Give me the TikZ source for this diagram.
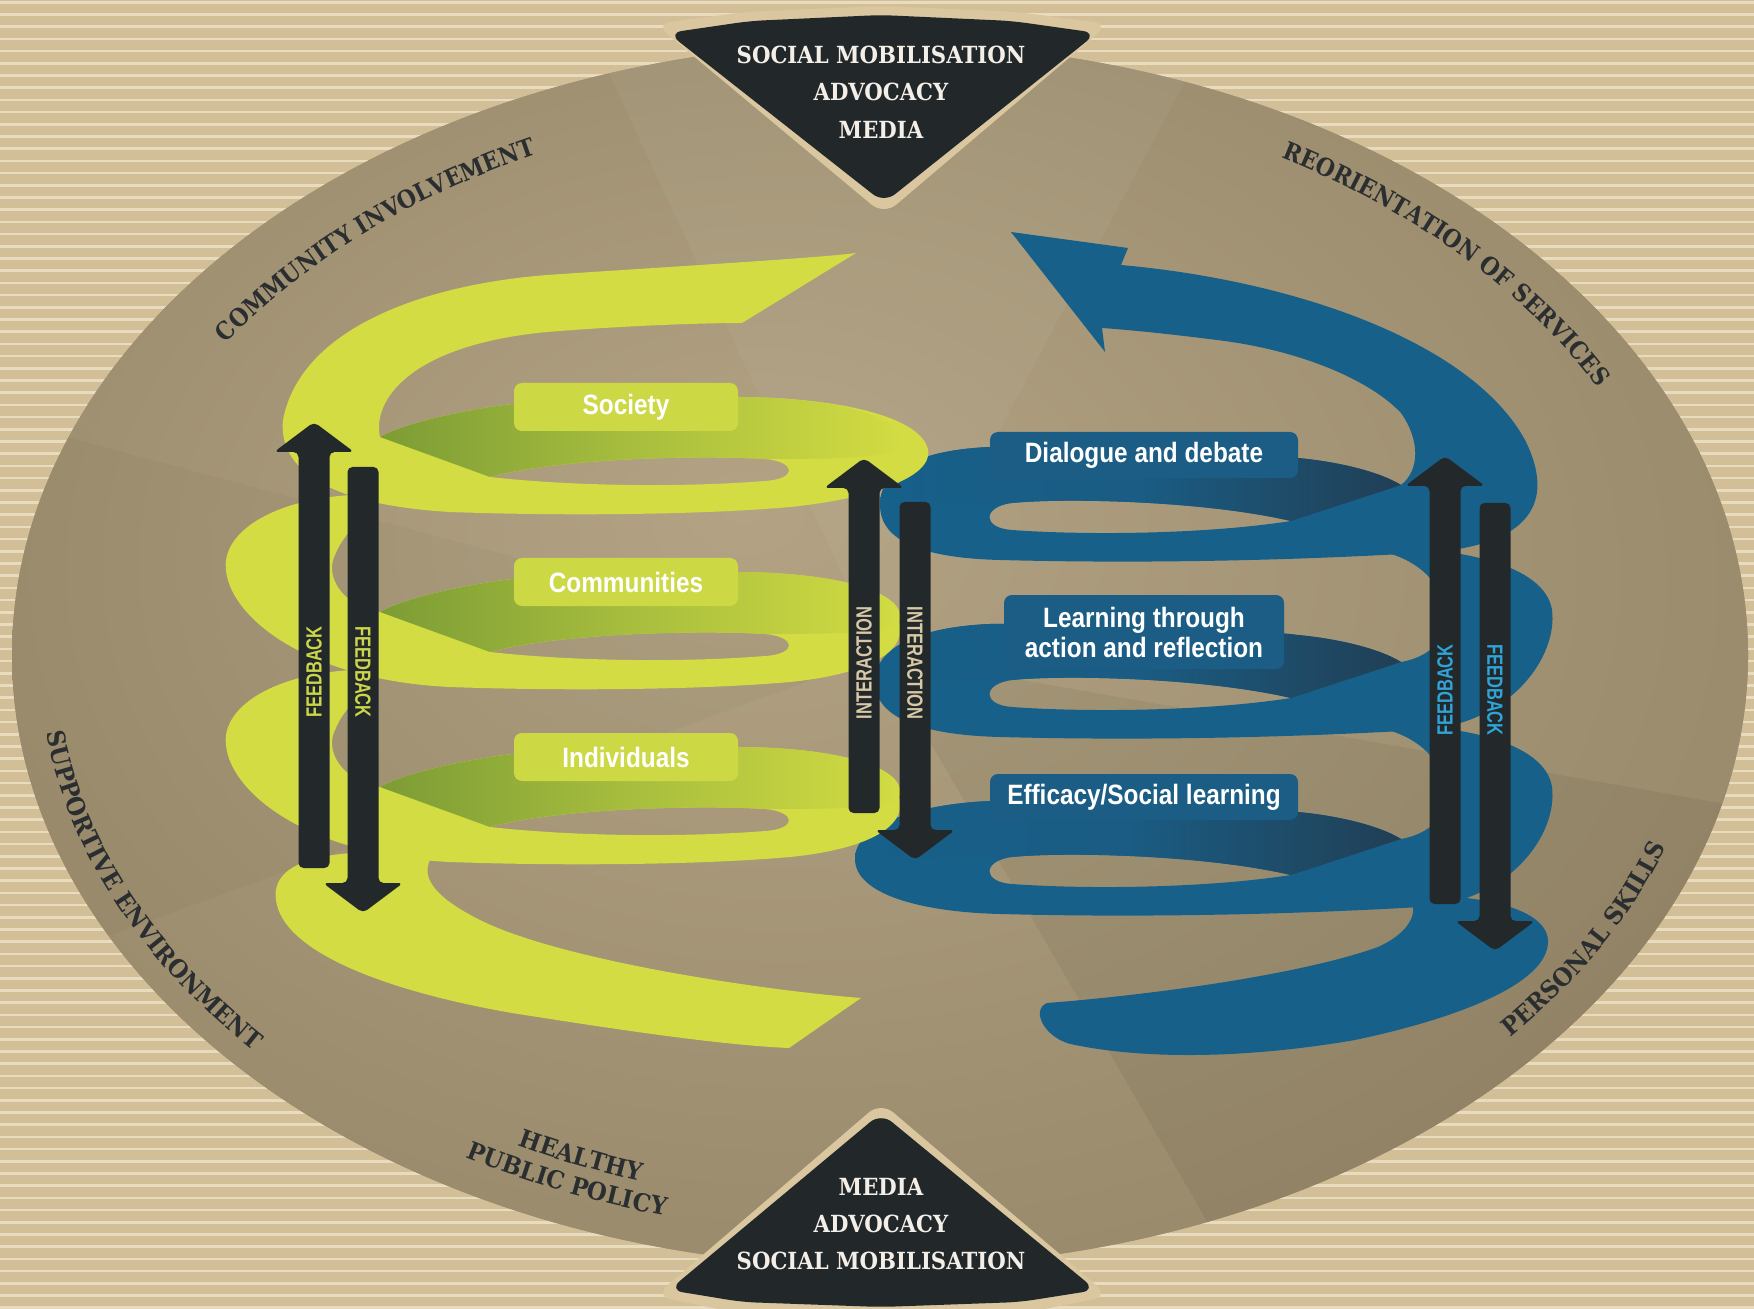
\documentclass[tikz,border=0pt]{standalone}
\usepackage{fontspec}
\usepackage{tikz}
\usetikzlibrary{decorations.text}
\newfontfamily\RimFont[FakeStretch=0.93]{DejaVu Serif}
\newfontfamily\RimFontTop[FakeStretch=0.89]{DejaVu Serif}
\newfontfamily\TriFont[FakeStretch=0.9]{DejaVu Serif}
\newfontfamily\TagFont[FakeStretch=0.87]{Liberation Sans}
\newfontfamily\ShaftFont[FakeStretch=0.75]{Liberation Sans}
\definecolor{BgTan}{HTML}{D2BE97}
\definecolor{BgLine}{HTML}{E9DBBD}
\definecolor{RimLight}{HTML}{B3A384}
\definecolor{RimMid}{HTML}{9D8E6F}
\definecolor{RimDark}{HTML}{897B5E}
\definecolor{TriInk}{HTML}{F3EFE8}
\definecolor{TriDark}{HTML}{22272A}
\definecolor{TriEdge}{HTML}{DAC7A0}
\definecolor{RimInk}{HTML}{2A2E30}
\definecolor{LimeBright}{HTML}{D3DC42}
\definecolor{LimeOlive}{HTML}{7C9C35}
\definecolor{LimeMid}{HTML}{A9BF3E}
\definecolor{LimeTag}{HTML}{CDD845}
\definecolor{SeaBlue}{HTML}{17608A}
\definecolor{SeaMid}{HTML}{1A5C83}
\definecolor{SeaDeep}{HTML}{213F55}
\definecolor{SeaTag}{HTML}{1B5D85}
\definecolor{ArrowInk}{HTML}{23282B}
\definecolor{LimeText}{HTML}{CBD64A}
\definecolor{SandText}{HTML}{D7C8A6}
\definecolor{SkyText}{HTML}{2FA4D8}
\newcommand\RimStyle{\RimFont\bfseries\fontsize{12.3}{14}\selectfont\color{RimInk}}
\newcommand\RimStyleTop{\RimFontTop\bfseries\fontsize{12.3}{14}\selectfont\color{RimInk}}
\pgfdeclareradialshading{RimGlow}{\pgfpoint{-4bp}{6bp}}{color(0bp)=(RimLight); color(24bp)=(RimMid); color(50bp)=(RimDark)}
\tikzset{%
  StripeLine/.style={fill=BgLine},
  GreenBand/.style={fill=LimeBright},
  BlueBand/.style={fill=SeaBlue},
  GreenTag/.style={fill=LimeTag,rounded corners=4pt,minimum width=112pt,minimum height=24pt,inner sep=0pt,text=white,font=\TagFont\bfseries\fontsize{14}{15}\selectfont},
  BlueTag/.style={fill=SeaTag,rounded corners=4pt,inner sep=0pt,align=center,text=white,font=\TagFont\bfseries\fontsize{14}{15}\selectfont},
  ShaftArrow/.style={fill=ArrowInk,rounded corners=2.5pt},
  ShaftTag/.style={inner sep=0pt,font=\ShaftFont\bfseries\fontsize{11}{12}\selectfont},
  TriText/.style={align=center,text=TriInk,font=\TriFont\bfseries\fontsize{11.8}{18.7}\selectfont},
  RimLabel/.style={decorate,decoration={text along path,text align=center,text={|\RimStyle|#1}}},
  RimLabelTop/.style={decorate,decoration={text along path,text align=center,text={|\RimStyleTop|#1}}}
}

\begin{document}
\begin{tikzpicture}[x=0.5pt,y=-0.5pt]
  \useasboundingbox (0,0) rectangle (1754,1309);
  \fill[BgTan] (0,0) rectangle (1754,1309);
  \foreach \i in {0,...,107}
    \fill[StripeLine] (0,{1+12.2*\i}) rectangle (1754,{3.6+12.2*\i});
  \fill[RimMid] (880,655) ellipse [x radius=868, y radius=612];
  \shade[shading=RimGlow] (880,655) ellipse [x radius=868, y radius=612];
  \begin{scope}
    \clip (880,655) ellipse [x radius=868, y radius=612];
    \foreach \ta/\tb/\tone/\op in {-115/-62/white/0.04,10/60/black/0.05,-200/-165/black/0.025}
      \fill[\tone, opacity=\op] (880,655) -- ++(\ta:1000) arc [start angle=\ta, end angle=\tb, radius=1000] -- cycle;
  \end{scope}

  \fill[TriEdge, rounded corners=8pt] (655,24) -- (745,12) -- (881,6) -- (1017,12) -- (1109,24) -- (884,215) -- cycle;
  \fill[TriDark, rounded corners=7pt] (668,33) -- (750,21) -- (881,15) -- (1012,21) -- (1097,33) -- (884,203) -- cycle;
  \fill[TriEdge, rounded corners=8pt] (655,1296) -- (881,1102) -- (1109,1296) -- (1020,1314) -- (742,1314) -- cycle;
  \fill[TriDark, rounded corners=7pt] (669,1290) -- (881,1113) -- (1096,1290) -- (1020,1302) -- (881,1307) -- (742,1302) -- cycle;
  \node[TriText] (topband) at (881,92) {SOCIAL MOBILISATION\\ADVOCACY\\MEDIA};
  \node[TriText] (lowband) at (881,1224) {MEDIA\\ADVOCACY\\SOCIAL MOBILISATION};

  \path[RimLabelTop=COMMUNITY INVOLVEMENT, shift={(880,655)}] (-162:790 and 556) arc [start angle=-162, end angle=-103, x radius=790, y radius=556];
  \path[RimLabelTop=REORIENTATION OF SERVICES, shift={(880,655)}] (-72:812 and 572) arc [start angle=-72, end angle=-13, x radius=812, y radius=572];
  \path[RimLabel=PERSONAL SKILLS, shift={(880,655)}] (50:832 and 586) arc [start angle=50, end angle=8, x radius=832, y radius=586];
  \path[RimLabel=SUPPORTIVE ENVIRONMENT, shift={(880,655)}] (-180:841 and 593) arc [start angle=-180, end angle=-228, x radius=841, y radius=593];
  \path[RimLabel=HEALTHY, shift={(880,655)}] (-232:784 and 553) arc [start angle=-232, end angle=-262, x radius=784, y radius=553];
  \path[RimLabel=PUBLIC POLICY, shift={(880,655)}] (-230:825 and 581) arc [start angle=-230, end angle=-264, x radius=825, y radius=581];

  \fill[BlueBand] (1380,895) .. controls (1470,892) and (1545,905) .. (1548,940)
    .. controls (1550,985) and (1450,1020) .. (1355,1040)
    .. controls (1250,1058) and (1150,1060) .. (1075,1045)
    .. controls (1045,1040) and (1030,1010) .. (1047,1003)
    .. controls (1150,995) and (1300,975) .. (1378,947)
    .. controls (1405,935) and (1420,915) .. (1410,900) -- cycle;
  \foreach \d/\L in {354/855,177/875}{
    \begin{scope}[shift={(0,\d)}]
      \fill[BlueBand, even odd rule] (1360,371)
        .. controls (1460,368) and (1545,388) .. (1552,433)
        .. controls (1558,480) and (1510,548) .. (1420,553)
        .. controls (1300,560) and (1150,564) .. (1000,560)
        .. controls (920,558) and (\L,540) .. (\L,505)
        .. controls (\L,470) and (920,450) .. (990,447)
        .. controls (1100,445) and (1250,452) .. (1298,458)
        .. controls (1340,462) and (1380,472) .. (1401,485)
        .. controls (1440,478) and (1452,450) .. (1445,430)
        .. controls (1438,400) and (1410,375) .. (1360,371) -- cycle
        (1291,521) .. controls (1200,500) and (1060,498) .. (1012,503)
        .. controls (982,507) and (982,528) .. (1012,530)
        .. controls (1080,535) and (1200,535) .. (1291,521) -- cycle;
    \end{scope}
  }
  \fill[BlueBand, even odd rule] (1011,232) -- (1128,248) -- (1121,265)
    .. controls (1290,280) and (1470,340) .. (1525,440)
    .. controls (1560,510) and (1520,548) .. (1420,553)
    .. controls (1300,560) and (1150,564) .. (1000,560)
    .. controls (920,558) and (880,540) .. (880,505)
    .. controls (880,470) and (920,450) .. (990,447)
    .. controls (1100,445) and (1250,452) .. (1298,458)
    .. controls (1340,462) and (1380,472) .. (1401,485)
    .. controls (1420,470) and (1420,440) .. (1401,413)
    .. controls (1370,380) and (1300,350) .. (1217,340)
    .. controls (1170,334) and (1130,330) .. (1102,328)
    -- (1105,352) -- cycle
    (1291,521) .. controls (1200,500) and (1060,498) .. (1012,503)
    .. controls (982,507) and (982,528) .. (1012,530)
    .. controls (1080,535) and (1200,535) .. (1291,521) -- cycle;
  \foreach \d/\L in {0/880,177/875,354/855}{
    \begin{scope}[shift={(0,\d)}]
      \shade[left color=SeaBlue, right color=SeaDeep, middle color=SeaMid]
        (1401,485) .. controls (1380,472) and (1340,462) .. (1298,458)
        .. controls (1250,452) and (1100,445) .. (990,447)
        .. controls (920,450) and (\L,470) .. (\L,505)
        -- (1012,503) .. controls (1060,498) and (1200,500) .. (1291,521) -- cycle;
    \end{scope}
  }
  \foreach \name/\yy/\ww/\hh [count=\xi] in {Dialogue and debate/455/154/23,
      {Learning through\\action and reflection}/632/140/37,
      {Efficacy/Social learning}/797/154/23}
    \node[BlueTag, minimum width=\ww pt, minimum height=\hh pt] (b\xi) at (1144,\yy) {\name};

  \fill[GreenBand] (440,855) .. controls (330,845) and (270,860) .. (276,900)
    .. controls (282,950) and (380,990) .. (512,1013)
    .. controls (620,1030) and (720,1045) .. (789,1048)
    -- (861,998)
    .. controls (760,990) and (560,960) .. (480,920)
    .. controls (440,900) and (420,880) .. (430,860) -- cycle;
  \foreach \d in {350,175}{
    \begin{scope}[shift={(0,\d)}]
      \fill[GreenBand, even odd rule] (390,320)
        .. controls (300,315) and (232,345) .. (226,385)
        .. controls (220,435) and (300,505) .. (450,512)
        .. controls (560,516) and (700,515) .. (790,507)
        .. controls (860,500) and (905,480) .. (900,450)
        .. controls (895,420) and (850,398) .. (740,397)
        .. controls (640,397) and (560,400) .. (513,404)
        .. controls (460,410) and (400,425) .. (380,437)
        .. controls (340,430) and (325,400) .. (335,380)
        .. controls (345,355) and (370,335) .. (390,320) -- cycle
        (490,477) .. controls (560,458) and (700,455) .. (765,459)
        .. controls (797,462) and (797,479) .. (765,481)
        .. controls (690,487) and (580,487) .. (490,477) -- cycle;
    \end{scope}
  }
  \fill[GreenBand, even odd rule] (856,253)
    .. controls (820,258) and (650,268) .. (547,275)
    .. controls (420,285) and (300,330) .. (283,420)
    .. controls (278,470) and (330,505) .. (450,512)
    .. controls (560,516) and (700,515) .. (790,507)
    .. controls (860,500) and (933,480) .. (928,450)
    .. controls (923,420) and (850,398) .. (740,397)
    .. controls (640,397) and (560,400) .. (513,404)
    .. controls (460,410) and (400,425) .. (380,437)
    .. controls (372,400) and (410,345) .. (547,332)
    .. controls (620,326) and (700,323) .. (742,323) -- cycle
    (490,477) .. controls (560,458) and (700,455) .. (765,459)
    .. controls (797,462) and (797,479) .. (765,481)
    .. controls (690,487) and (580,487) .. (490,477) -- cycle;
  \foreach \d in {0,175,350}{
    \begin{scope}[shift={(0,\d)}]
      \shade[left color=LimeOlive, right color=LimeBright, middle color=LimeMid]
        (380,437) .. controls (400,425) and (460,410) .. (513,404)
        .. controls (560,400) and (640,397) .. (740,397)
        .. controls (850,398) and (905,420) .. (900,445)
        .. controls (895,462) and (800,458) .. (765,459)
        .. controls (700,455) and (560,458) .. (490,477) -- cycle;
    \end{scope}
  }
  \foreach \name [count=\xi] in {Society,Communities,Individuals}
    \node[GreenTag] (g\xi) at (626,{232+175*\xi}) {\name};

  \foreach \cx/\tip/\tail/\s in {314/422/868/1,363/913/467/-1,864/458/813/1,
      915/860/502/-1,1445/456/904/1,1495/951/503/-1}
    \fill[ShaftArrow] ({\cx-15.5},\tail) -- ({\cx-15.5},{\tip+30*\s})
      -- ({\cx-40},{\tip+30*\s}) -- (\cx,\tip) -- ({\cx+40},{\tip+30*\s})
      -- ({\cx+15.5},{\tip+30*\s}) -- ({\cx+15.5},\tail) -- cycle;
  \node[ShaftTag, text=LimeText, rotate=90] (fb1) at (314,672) {FEEDBACK};
  \node[ShaftTag, text=LimeText, rotate=-90] (fb2) at (363,672) {FEEDBACK};
  \node[ShaftTag, text=SandText, rotate=90] (ia1) at (864,663) {INTERACTION};
  \node[ShaftTag, text=SandText, rotate=-90] (ia2) at (915,663) {INTERACTION};
  \node[ShaftTag, text=SkyText, rotate=90] (fb3) at (1445,690) {FEEDBACK};
  \node[ShaftTag, text=SkyText, rotate=-90] (fb4) at (1495,690) {FEEDBACK};
\end{tikzpicture}
\end{document}
